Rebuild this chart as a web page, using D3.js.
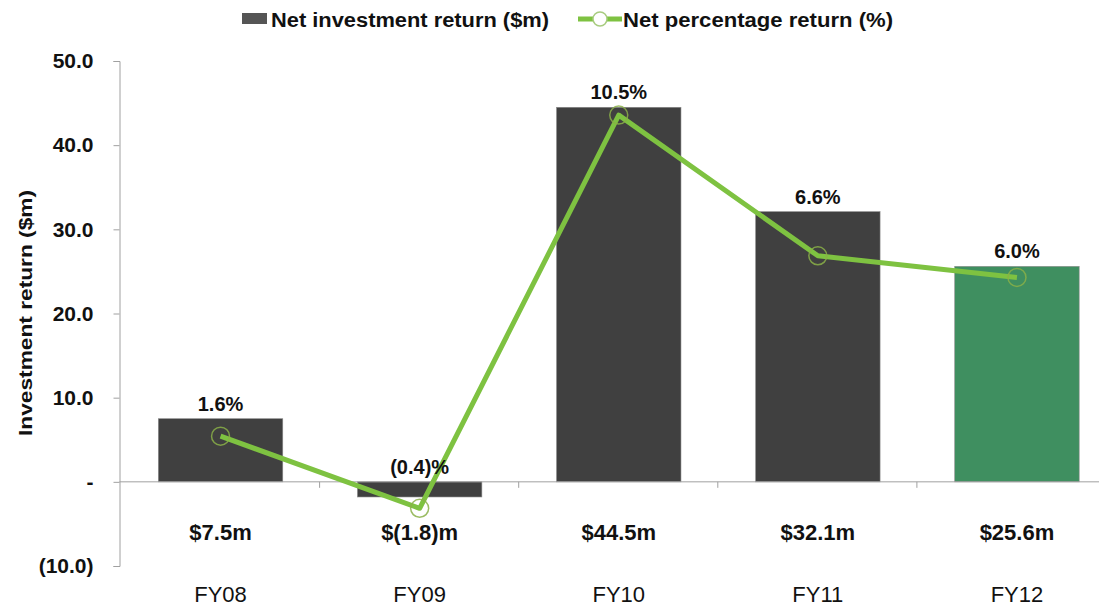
<!DOCTYPE html>
<html><head><meta charset="utf-8">
<script src="https://cdn.jsdelivr.net/npm/d3@7"></script>
<style>
body{margin:0;background:#fff;}
text{font-family:"Liberation Sans",Arial,sans-serif;}
</style></head>
<body><svg id="c" width="1099" height="606"></svg>
<script>
const categories = ["FY08","FY09","FY10","FY11","FY12"];
const investmentReturn = [7.5, -1.8, 44.5, 32.1, 25.6];
const percentReturn = [1.6, -0.4, 10.5, 6.6, 6.0];
const valueLabels = ["$7.5m","$(1.8)m","$44.5m","$32.1m","$25.6m"];
const pctLabels = ["1.6%","(0.4)%","10.5%","6.6%","6.0%"];
const yTicks = [-10, 0, 10, 20, 30, 40, 50];
const yTickLabels = ["(10.0)","-","10.0","20.0","30.0","40.0","50.0"];
const highlight = "FY12";

const svg = d3.select("#c");
const x = d3.scaleBand().domain(categories).range([120.5, 1117]).paddingInner(0.375).paddingOuter(0.19);
const y = d3.scaleLinear().domain([-10, 50]).range([566, 61]);
const y2 = d3.scaleLinear().domain([-2, 12]).range([566, 61]);

// bars
svg.selectAll("rect.bar").data(categories).join("rect")
  .attr("x", d => x(d)).attr("width", x.bandwidth())
  .attr("y", (d,i) => y(Math.max(0, investmentReturn[i])))
  .attr("height", (d,i) => Math.abs(y(investmentReturn[i]) - y(0)))
  .attr("fill", d => d === highlight ? "#3f8f60" : "#404040")
  .attr("stroke", "#8a8a8a").attr("stroke-width", 0.6);

// y axis
const yAxis = d3.axisLeft(y).tickValues(yTicks).tickSize(6).tickFormat((d,i) => yTickLabels[i]);
const gy = svg.append("g").attr("transform","translate(119.5,0)").call(yAxis);
gy.select(".domain").attr("stroke","#a0a0a0");
gy.selectAll(".tick line").attr("stroke","#a0a0a0");
gy.selectAll(".tick text").attr("x",-26).attr("font-size",21).attr("font-weight","bold").attr("fill","#111");

// zero line with category boundary ticks
const bounds = d3.range(categories.length + 1).map(i => x.range()[0] + i * x.step());
const gx = svg.append("g").attr("transform",`translate(0,${y(0)})`);
gx.append("line").attr("x1",119.5).attr("x2",1099).attr("stroke","#a0a0a0");
gx.selectAll("line.t").data(bounds.slice(1)).join("line").attr("class","t")
  .attr("x1", d=>d).attr("x2", d=>d).attr("y1",0).attr("y2",6).attr("stroke","#a0a0a0");

// y title
svg.append("text").attr("transform","translate(32,313) rotate(-90)").attr("text-anchor","middle")
  .attr("font-size",18).attr("font-weight","bold").attr("fill","#111")
  .attr("textLength",246).attr("lengthAdjust","spacingAndGlyphs").text("Investment return ($m)");

// line
const cx = d => x(d) + x.bandwidth()/2;
const line = d3.line().x((d,i) => cx(categories[i])).y(d => y2(d));
svg.append("path").datum(percentReturn).attr("d", line).attr("fill","none")
  .attr("stroke","#7ec241").attr("stroke-width",5).attr("stroke-linejoin","round");
svg.selectAll("circle.m").data(percentReturn).join("circle")
  .attr("cx",(d,i)=>cx(categories[i])).attr("cy",d=>y2(d)).attr("r",9)
  .attr("fill","none").attr("stroke","#8ab048").attr("stroke-width",1.5).attr("opacity",0.85);

// percent labels
svg.selectAll("text.p").data(pctLabels).join("text")
  .attr("x",(d,i)=>cx(categories[i])).attr("y",(d,i)=>y(Math.max(0,investmentReturn[i])) - 8)
  .attr("text-anchor","middle").attr("font-size",20).attr("font-weight","bold").attr("fill","#111").text(d=>d);

// value labels
svg.selectAll("text.v").data(valueLabels).join("text")
  .attr("x",(d,i)=>cx(categories[i])).attr("y",540)
  .attr("text-anchor","middle").attr("font-size",22).attr("font-weight","bold").attr("fill","#111").text(d=>d);

// category labels
svg.selectAll("text.c").data(categories).join("text")
  .attr("x",d=>cx(d)).attr("y",602)
  .attr("text-anchor","middle").attr("font-size",22).attr("fill","#111").text(d=>d);

// legend
const lg = svg.append("g");
lg.append("rect").attr("x",242).attr("y",13).attr("width",25).attr("height",11).attr("fill","#555");
lg.append("text").attr("x",271).attr("y",27).attr("font-size",20).attr("font-weight","bold").attr("fill","#111")
  .attr("textLength",278).attr("lengthAdjust","spacingAndGlyphs").text("Net investment return ($m)");
lg.append("line").attr("x1",578).attr("x2",622).attr("y1",19).attr("y2",19).attr("stroke","#7ec241").attr("stroke-width",5);
lg.append("circle").attr("cx",600).attr("cy",19).attr("r",7).attr("fill","#fff").attr("stroke","#a8cc80").attr("stroke-width",1.5);
lg.append("text").attr("x",623).attr("y",27).attr("font-size",20).attr("font-weight","bold").attr("fill","#111")
  .attr("textLength",270).attr("lengthAdjust","spacingAndGlyphs").text("Net percentage return (%)");
</script></body></html>
